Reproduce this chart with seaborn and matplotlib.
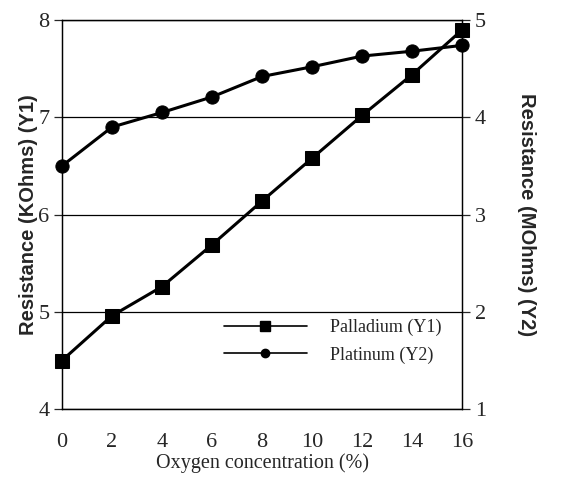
import matplotlib
matplotlib.use("Agg")
import matplotlib.pyplot as plt
import seaborn as sns
import pandas as pd
from matplotlib.lines import Line2D

oxygen = [0, 2, 4, 6, 8, 10, 12, 14, 16]
palladium_y1 = [4.5, 4.96, 5.26, 5.69, 6.14, 6.58, 7.02, 7.44, 7.9]
platinum_y2 = [3.5, 3.9, 4.05, 4.21, 4.42, 4.52, 4.63, 4.68, 4.74]
x_ticks = [0, 2, 4, 6, 8, 10, 12, 14, 16]
y1_ticks = [4, 5, 6, 7, 8]
y2_ticks = [1, 2, 3, 4, 5]

sns.set_style("white")
serif = "Liberation Serif"
sans = "Liberation Sans"

df_pd = pd.DataFrame({"x": oxygen, "y": palladium_y1})
df_pt = pd.DataFrame({"x": oxygen, "y": platinum_y2})

fig = plt.figure(figsize=(5.63, 4.78), dpi=100)
ax = fig.add_axes([0.110, 0.144, 0.711, 0.814])
ax2 = ax.twinx()

sns.lineplot(data=df_pd, x="x", y="y", ax=ax, color="black", lw=2.2,
             marker="s", markersize=9.5, markeredgecolor="black", legend=False,
             clip_on=False, zorder=5)
sns.lineplot(data=df_pt, x="x", y="y", ax=ax2, color="black", lw=2.2,
             marker="o", markersize=9.5, markeredgecolor="black", legend=False,
             clip_on=False, zorder=5)

ax.set_xlim(0, 16)
ax.set_ylim(4, 8)
ax2.set_ylim(1, 5)
ax.set_xticks(x_ticks)
ax.set_yticks(y1_ticks)
ax2.set_yticks(y2_ticks)
ax.set_xticklabels([str(v) for v in x_ticks], fontfamily=serif, fontsize=16)
ax.set_yticklabels([str(v) for v in y1_ticks], fontfamily=serif, fontsize=16)
ax2.set_yticklabels([str(v) for v in y2_ticks], fontfamily=serif, fontsize=16)

ax.grid(axis="y", color="black", lw=0.9)
ax.set_axisbelow(True)
for a in (ax, ax2):
    for s in a.spines.values():
        s.set_color("black")
        s.set_linewidth(0.9)

ax.tick_params(axis="x", direction="inout", length=10, width=0.9, pad=12)
ax.tick_params(axis="y", direction="out", length=6, width=0.9, pad=3)
ax2.tick_params(axis="y", direction="out", length=6, width=0.9, pad=3)

ax.set_xlabel("Oxygen concentration (%)", fontfamily=serif, fontsize=14.5, labelpad=1)
ax.set_ylabel("Resistance (KOhms) (Y1)", fontfamily=sans, fontweight="bold",
              fontsize=14.5, labelpad=0)
ax2.set_ylabel("Resistance (MOhms) (Y2)", fontfamily=sans, fontweight="bold",
               fontsize=14.5, rotation=270, labelpad=36)

handles = [
    Line2D([], [], color="black", lw=1.2, marker="s", markersize=7),
    Line2D([], [], color="black", lw=1.2, marker="o", markersize=6),
]
leg = ax.legend(handles, ["Palladium (Y1)", "Platinum (Y2)"], loc="lower right",
                bbox_to_anchor=(0.99, 0.075), frameon=False, handlelength=4.6,
                handletextpad=1.3, labelspacing=0.55,
                prop={"family": serif, "size": 13})

fig.savefig("out.png", dpi=100, facecolor="white")
